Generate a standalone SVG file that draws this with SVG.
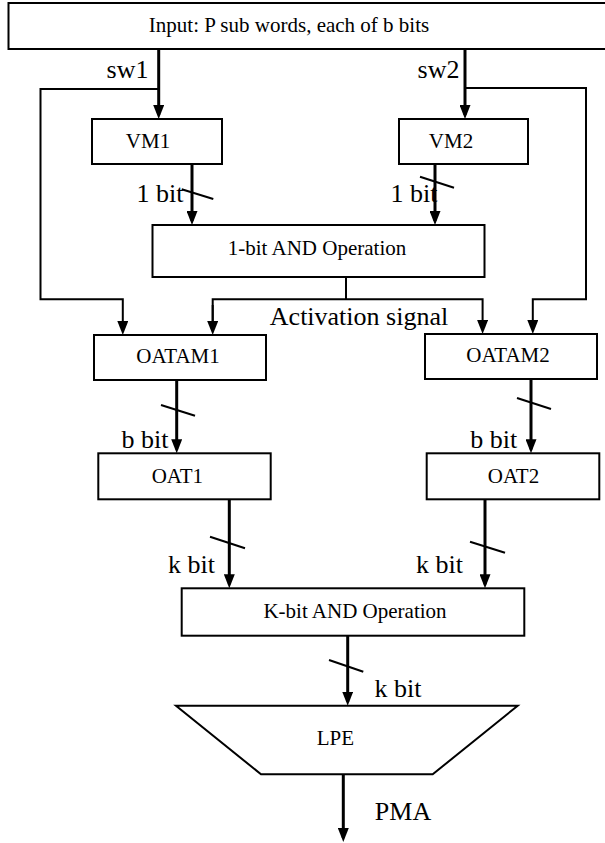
<svg xmlns="http://www.w3.org/2000/svg" width="605" height="843" viewBox="0 0 605 843">
<defs>
<marker id="ah" viewBox="0 0 14 11" markerWidth="14" markerHeight="11" refX="10" refY="5.5" orient="auto" markerUnits="userSpaceOnUse">
<path d="M0,0 L14,5.5 L0,11 z" fill="#000"/>
</marker>
<style>
.box{fill:#fff;stroke:#000;stroke-width:2}
.t{font-size:21px;fill:#000;text-anchor:middle}
.l{font-size:26px;fill:#000;text-anchor:middle}
.w{fill:none;stroke:#000;stroke-width:3}
.n{fill:none;stroke:#000;stroke-width:2}
.s{fill:none;stroke:#000;stroke-width:2}
</style>
</defs>
<rect width="605" height="843" fill="#fff"/>
<g id="connectors">
<line class="w" x1="158.7" y1="49" x2="158.7" y2="115" marker-end="url(#ah)"/>
<line class="w" x1="465" y1="49" x2="465" y2="115" marker-end="url(#ah)"/>
<polyline class="n" points="158.7,89 40.5,89 40.5,299.3 122.8,299.3 122.8,331" marker-end="url(#ah)"/>
<polyline class="n" points="465,88 586,88 586,299.3 532.8,299.3 532.8,330" marker-end="url(#ah)"/>
<line class="w" x1="192" y1="164" x2="192" y2="221" marker-end="url(#ah)"/>
<line class="w" x1="435" y1="164" x2="435" y2="221" marker-end="url(#ah)"/>
<line class="n" x1="346" y1="276.7" x2="346" y2="299.3"/>
<polyline class="n" points="212.7,331 212.7,299.3 482.6,299.3 482.6,330" marker-end="url(#ah)"/>
<line class="n" x1="212.7" y1="305" x2="212.7" y2="331" marker-end="url(#ah)"/>
<line class="w" x1="176.7" y1="380" x2="176.7" y2="449.3" marker-end="url(#ah)"/>
<line class="w" x1="531" y1="379.3" x2="531" y2="449.3" marker-end="url(#ah)"/>
<line class="w" x1="229.3" y1="499.3" x2="229.3" y2="584.3" marker-end="url(#ah)"/>
<line class="w" x1="485" y1="499.3" x2="485" y2="584.3" marker-end="url(#ah)"/>
<line class="w" x1="347.7" y1="635.7" x2="347.7" y2="701.7" marker-end="url(#ah)"/>
<line class="w" x1="343.3" y1="774.3" x2="343.3" y2="838" marker-end="url(#ah)"/>
<line class="s" x1="181.7" y1="189.3" x2="213.3" y2="199"/>
<line class="s" x1="420" y1="176.7" x2="454" y2="187.7"/>
<line class="s" x1="161" y1="405" x2="195" y2="415.7"/>
<line class="s" x1="517" y1="398" x2="551" y2="409"/>
<line class="s" x1="210" y1="536.7" x2="245" y2="548.3"/>
<line class="s" x1="470" y1="541.7" x2="505" y2="552.7"/>
<line class="s" x1="329" y1="660" x2="363.3" y2="671.7"/>
</g>
<g font-family="'Liberation Serif', 'Times New Roman', 'DejaVu Serif', serif">
<g id="input">
<rect class="box" x="8.5" y="3" width="610" height="46"/>
<text class="t" x="289" y="32">Input: P sub words, each of b bits</text>
</g>
<g id="vm1">
<rect class="box" x="92" y="119" width="130" height="45"/>
<text class="t" x="148" y="148">VM1</text>
</g>
<g id="vm2">
<rect class="box" x="399" y="119" width="129" height="45"/>
<text class="t" x="451" y="148">VM2</text>
</g>
<g id="and1">
<rect class="box" x="152.5" y="225" width="332" height="52"/>
<text class="t" x="317" y="255">1-bit AND Operation</text>
</g>
<g id="oatam1">
<rect class="box" x="94" y="335" width="172" height="45"/>
<text class="t" x="178" y="363">OATAM1</text>
</g>
<g id="oatam2">
<rect class="box" x="425" y="334" width="172" height="45"/>
<text class="t" x="508" y="362">OATAM2</text>
</g>
<g id="oat1">
<rect class="box" x="98.3" y="453.3" width="172.4" height="46"/>
<text class="t" x="177.3" y="483.3">OAT1</text>
</g>
<g id="oat2">
<rect class="box" x="426.7" y="453.3" width="172.6" height="46"/>
<text class="t" x="513.5" y="483.3">OAT2</text>
</g>
<g id="and2">
<rect class="box" x="181.7" y="588.3" width="342.6" height="47.4"/>
<text class="t" x="355" y="618">K-bit AND Operation</text>
</g>
<g id="lpe">
<polygon class="box" points="176,705.7 517.7,705.7 432.7,774.3 261,774.3"/>
<text class="t" x="335.3" y="745">LPE</text>
</g>
<g id="labels">
<text class="l" x="127.5" y="78">sw1</text>
<text class="l" x="438.5" y="78">sw2</text>
<text class="l" x="160" y="201.7">1 bit</text>
<text class="l" x="414" y="201.7">1 bit</text>
<text class="l" x="359" y="325">Activation signal</text>
<text class="l" x="145" y="448.3">b bit</text>
<text class="l" x="493.7" y="448.3">b bit</text>
<text class="l" x="191.5" y="572.7">k bit</text>
<text class="l" x="439.5" y="572.7">k bit</text>
<text class="l" x="398" y="696.7">k bit</text>
<text class="l" x="403" y="820">PMA</text>
</g>
</g>
</svg>
